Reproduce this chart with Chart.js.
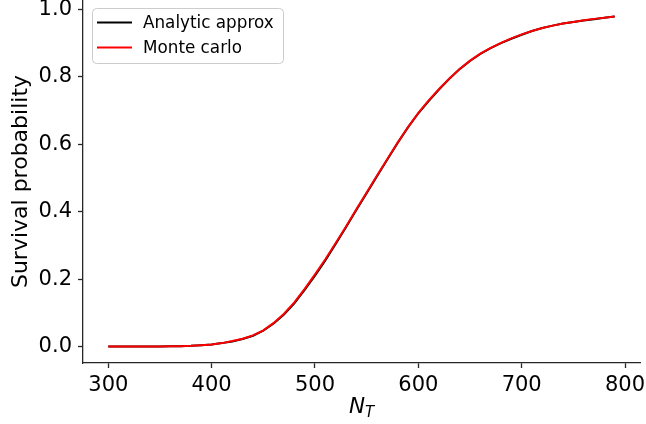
<!DOCTYPE html>
<html>
<head>
<meta charset="utf-8">
<script src="https://cdn.jsdelivr.net/npm/chart.js@4"></script>
<style>
  html, body { margin: 0; padding: 0; background: #fff; }
  #wrap { width: 646px; height: 424px; }
</style>
</head>
<body>
<div id="wrap"><canvas id="surv"></canvas></div>
<script>
const nT = [300, 310, 320, 330, 340, 350, 360, 370, 380, 390,
            400, 410, 420, 430, 440, 450, 460, 470, 480, 490,
            500, 510, 520, 530, 540, 550, 560, 570, 580, 590,
            600, 610, 620, 630, 640, 650, 660, 670, 680, 690,
            700, 710, 720, 730, 740, 750, 760, 770, 780, 790];

const analytic = [0, 0, 0, 0, 0, 0, 0.0005, 0.001, 0.002, 0.004,
                  0.006, 0.010, 0.015, 0.022, 0.032, 0.047, 0.068, 0.095, 0.128, 0.168,
                  0.210, 0.255, 0.304, 0.354, 0.405, 0.455, 0.505, 0.555, 0.604, 0.650,
                  0.692, 0.728, 0.762, 0.794, 0.823, 0.847, 0.868, 0.885, 0.900, 0.913,
                  0.925, 0.936, 0.945, 0.952, 0.958, 0.963, 0.967, 0.971, 0.975, 0.979];

const monteCarlo = [0, 0, 0, 0, 0, 0, 0.0004, 0.001, 0.002, 0.004,
                    0.006, 0.010, 0.016, 0.023, 0.033, 0.048, 0.070, 0.097, 0.131, 0.171,
                    0.214, 0.259, 0.307, 0.356, 0.407, 0.457, 0.507, 0.556, 0.605, 0.651,
                    0.693, 0.730, 0.764, 0.795, 0.823, 0.848, 0.869, 0.886, 0.901, 0.914,
                    0.926, 0.936, 0.945, 0.952, 0.958, 0.963, 0.968, 0.972, 0.975, 0.979];

const xTicks = [300, 400, 500, 600, 700, 800];
const yTicks = [0, 0.2, 0.4, 0.6, 0.8, 1.0];

const font = "DejaVu Sans";
const spine = "#262626";

// legend box drawn inside the axes, matplotlib style
const boxLegend = {
  id: "boxLegend",
  afterDatasetsDraw(chart) {
    const ctx = chart.ctx;
    const x = 92, y = 8, w = 191, h = 55;
    ctx.save();
    ctx.beginPath();
    ctx.roundRect(x + 0.5, y + 0.5, w, h, 4);
    ctx.fillStyle = "rgba(255,255,255,0.8)";
    ctx.fill();
    ctx.strokeStyle = "#cccccc";
    ctx.lineWidth = 1;
    ctx.stroke();
    ctx.font = "16.8px '" + font + "'";
    ctx.textBaseline = "middle";
    chart.data.datasets.forEach((ds, i) => {
      const ly = 22.5 + i * 25;
      ctx.beginPath();
      ctx.moveTo(97, ly);
      ctx.lineTo(132, ly);
      ctx.strokeStyle = ds.borderColor;
      ctx.lineWidth = ds.borderWidth;
      ctx.stroke();
      ctx.fillStyle = "#000";
      ctx.fillText(ds.label, 143, ly + 1);
    });
    ctx.restore();
  }
};

// x axis title N_T with a subscript
const subTitle = {
  id: "subTitle",
  afterDraw(chart) {
    const ctx = chart.ctx;
    const a = chart.chartArea;
    ctx.save();
    ctx.fillStyle = "#000";
    ctx.textBaseline = "alphabetic";
    ctx.font = "italic 21.5px '" + font + "'";
    const wN = ctx.measureText("N").width;
    ctx.font = "italic 15px '" + font + "'";
    const wT = ctx.measureText("T").width;
    const x0 = (a.left + a.right) / 2 - (wN + wT) / 2;
    ctx.font = "italic 21.5px '" + font + "'";
    ctx.fillText("N", x0, 412.5);
    ctx.font = "italic 15px '" + font + "'";
    ctx.fillText("T", x0 + wN, 416.5);
    ctx.restore();
  }
};

new Chart(document.getElementById("surv"), {
  type: "line",
  data: {
    datasets: [
      {
        label: "Analytic approx",
        data: nT.map((n, i) => ({ x: n, y: analytic[i] })),
        borderColor: "#000000",
        borderWidth: 2,
        pointRadius: 0,
        tension: 0,
        order: 1
      },
      {
        label: "Monte carlo",
        data: nT.map((n, i) => ({ x: n, y: monteCarlo[i] })),
        borderColor: "#ff0000",
        borderWidth: 2,
        pointRadius: 0,
        tension: 0,
        order: 0
      }
    ]
  },
  options: {
    responsive: true,
    maintainAspectRatio: false,
    animation: false,
    layout: { padding: { left: 0, right: 6, top: 0, bottom: 0 } },
    plugins: { legend: { display: false }, tooltip: { enabled: false } },
    scales: {
      x: {
        type: "linear",
        min: 275.5,
        max: 814.5,
        afterBuildTicks: s => { s.ticks = xTicks.map(v => ({ value: v })); },
        afterFit: s => { s.height = 61; s.paddingLeft = 0; s.paddingRight = 0; },
        ticks: { color: "#000", padding: 5, font: { family: font, size: 21 } },
        grid: { drawOnChartArea: false, drawTicks: true, tickLength: 5, color: spine, tickWidth: 1.3 },
        border: { color: spine, width: 1.3 }
      },
      y: {
        min: -0.049,
        max: 1.028,
        afterBuildTicks: s => { s.ticks = yTicks.map(v => ({ value: v })); },
        afterFit: s => { s.width = 83; s.paddingTop = 0; s.paddingBottom = 0; },
        ticks: { color: "#000", padding: 6, font: { family: font, size: 21 }, callback: v => v.toFixed(1) },
        grid: { drawOnChartArea: false, drawTicks: true, tickLength: 5, color: spine, tickWidth: 1.3 },
        border: { color: spine, width: 1.3 },
        title: {
          display: true,
          text: "Survival probability",
          color: "#000",
          padding: { top: 8.5, bottom: 0 },
          font: { family: font, size: 22 }
        }
      }
    }
  },
  plugins: [boxLegend, subTitle]
});
</script>
</body>
</html>
